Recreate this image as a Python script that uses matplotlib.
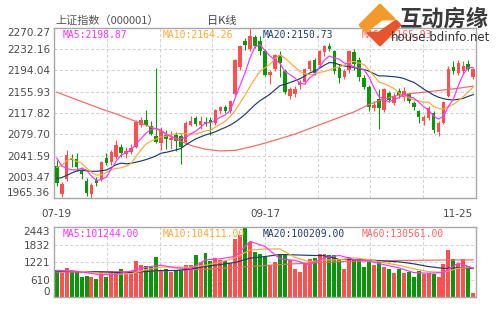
import numpy as np
import matplotlib
matplotlib.use("Agg")
import matplotlib.pyplot as plt
from matplotlib.patches import Polygon
from matplotlib.transforms import blended_transform_factory

plt.rcParams['font.family'] = ['DejaVu Sans', 'Noto Sans CJK SC']

# daily candles, 07-19 .. 11-25
date_labels = ['07-19', '09-17', '11-25']
date_index = [0, 42, 84]

opens = [2023, 1973, 1999, 2038, 2036, 2014, 1997, 1973, 1998, 1999,
         2038, 2031, 2040, 2057, 2044, 2049, 2057, 2097, 2106, 2094,
         2076, 2064, 2078, 2070, 2078, 2076, 2066, 2097, 2109, 2097,
         2101, 2106, 2100, 2121, 2128, 2121, 2151, 2200, 2246, 2232,
         2254, 2246, 2229, 2185, 2197, 2221, 2192, 2148, 2152, 2167,
         2173, 2197, 2213, 2203, 2227, 2238, 2228, 2198, 2183, 2194,
         2227, 2212, 2180, 2165, 2126, 2142, 2124, 2154, 2136, 2157,
         2146, 2151, 2136, 2121, 2104, 2109, 2118, 2084, 2100, 2148,
         2200, 2190, 2192, 2206, 2182]
highs = [2033, 1994, 2051, 2045, 2046, 2021, 2001, 1993, 2004, 2032,
         2046, 2052, 2069, 2063, 2057, 2062, 2105, 2110, 2124, 2104,
         2198.85, 2092, 2087, 2085, 2083, 2081, 2103, 2112, 2112, 2112,
         2111, 2110, 2125, 2131, 2132, 2141, 2215, 2240, 2252, 2270.27,
         2258, 2255, 2232, 2194, 2224, 2228, 2196, 2165, 2166, 2177,
         2199, 2213, 2216, 2230, 2240, 2243, 2231, 2206, 2196, 2231,
         2233, 2218, 2185, 2168, 2140, 2160, 2163, 2158, 2153, 2163,
         2165, 2154, 2140, 2124, 2115, 2130, 2121, 2103, 2140, 2202,
         2210, 2212, 2210, 2213, 2199]
lows = [1987, 1967, 1996, 2022, 2014, 1999, 1970, 1965.36, 1988, 1997,
        2024, 2025, 2035, 2040, 2038, 2044, 2055, 2093, 2094, 2078,
        2064, 2052, 2054, 2054, 2050, 2026, 2062, 2094, 2094, 2090,
        2094, 2079, 2097, 2116, 2118, 2117, 2150, 2194, 2231, 2228,
        2234, 2222, 2184, 2170, 2193, 2183, 2152, 2143, 2146, 2160,
        2170, 2193, 2186, 2200, 2220, 2228, 2188, 2172, 2178, 2190,
        2195, 2175, 2160, 2121, 2122, 2090, 2120, 2138, 2132, 2145,
        2140, 2135, 2124, 2100, 2096, 2105, 2082, 2076, 2098, 2146,
        2188, 2186, 2188, 2192, 2178]
closes = [1993, 1991, 2042, 2033, 2021, 2008, 1974, 1990, 1993, 2030,
          2029, 2048, 2060, 2047, 2050, 2055, 2102, 2106, 2097, 2081,
          2066, 2086, 2072, 2074, 2068, 2057, 2100, 2103, 2098, 2103,
          2098, 2101, 2123, 2128, 2122, 2139, 2212, 2238, 2240, 2255,
          2237, 2229, 2186, 2191, 2221, 2207, 2155, 2160, 2161, 2174,
          2197, 2211, 2190, 2228, 2237, 2233, 2192, 2180, 2193, 2229,
          2205, 2183, 2164, 2128, 2133, 2126, 2160, 2141, 2149, 2150,
          2157, 2139, 2129, 2111, 2110, 2126, 2087, 2100, 2138.25, 2197,
          2193.1, 2206.6, 2201.0, 2197.3, 2196.35]

volumes = [942, 860, 1035, 942, 884, 709, 732, 709, 651, 884,
           709, 907, 884, 1000, 884, 907, 1256, 1116, 1093, 1058,
           1407, 942, 1000, 884, 907, 942, 1116, 1140, 1476, 1243,
           1557, 1256, 1361, 1302, 1279, 1186, 2024, 2174, 2443, 1930,
           1591, 1500, 1407, 1116, 1232, 1465, 1465, 1290, 1000, 884,
           1174, 1349, 1372, 1523, 1500, 1465, 1465, 1350, 1000, 1407,
           1349, 1290, 1060, 1230, 1116, 1230, 1060, 1000, 840, 1000,
           850, 900, 720, 920, 800, 860, 820, 700, 1150, 1640,
           1330, 1150, 1340, 1100, 142.2]

# price moving averages
ma5 = [2037.2, 2023.4, 2018.6, 2016.4, 2016.0, 2019.0, 2015.6, 2005.2, 1997.2, 1999.0,
       2003.2, 2018.0, 2032.0, 2042.8, 2046.8, 2052.0, 2062.8, 2072.0, 2082.0, 2088.2,
       2090.4, 2087.2, 2080.4, 2075.8, 2073.2, 2071.4, 2074.2, 2080.4, 2085.2, 2092.2,
       2100.4, 2100.6, 2104.6, 2110.6, 2114.4, 2122.6, 2144.8, 2167.8, 2190.2, 2216.8,
       2236.4, 2239.8, 2229.4, 2219.6, 2212.8, 2206.8, 2192.0, 2186.8, 2180.8, 2171.4,
       2169.4, 2180.6, 2186.6, 2200.0, 2212.6, 2219.8, 2216.0, 2214.0, 2207.0, 2205.4,
       2199.8, 2198.0, 2194.8, 2181.8, 2162.6, 2146.8, 2142.2, 2137.6, 2141.8, 2145.2,
       2151.4, 2147.2, 2144.8, 2137.2, 2129.2, 2123.0, 2112.6, 2106.8, 2112.25, 2129.65,
       2143.07, 2166.99, 2187.19, 2199.0, 2198.87]
ma10 = [2020.7, 2023.9, 2032.5, 2036.3, 2031.2, 2028.1, 2019.5, 2011.9, 2006.8, 2007.5,
        2011.1, 2016.8, 2018.6, 2020.0, 2022.9, 2027.6, 2040.4, 2052.0, 2062.4, 2067.5,
        2071.2, 2075.0, 2076.2, 2078.9, 2080.7, 2080.9, 2080.7, 2080.4, 2080.5, 2082.7,
        2085.9, 2087.4, 2092.5, 2097.9, 2103.3, 2111.5, 2122.7, 2136.2, 2150.4, 2165.6,
        2179.5, 2192.3, 2198.6, 2204.9, 2214.8, 2221.6, 2215.9, 2208.1, 2200.2, 2192.1,
        2188.1, 2186.3, 2186.7, 2190.4, 2192.0, 2194.6, 2198.3, 2200.3, 2203.5, 2209.0,
        2209.8, 2207.0, 2204.4, 2194.4, 2184.0, 2173.3, 2170.1, 2166.2, 2161.8, 2153.9,
        2149.1, 2144.7, 2141.2, 2139.5, 2137.2, 2137.2, 2129.9, 2125.8, 2124.7, 2129.4,
        2133.0, 2139.8, 2147.0, 2155.6, 2164.26]
ma20 = [2000.9, 2002.3, 2006.4, 2010.5, 2014.1, 2015.5, 2014.5, 2013.7, 2013.6, 2014.8,
        2015.9, 2020.4, 2025.6, 2028.2, 2027.1, 2027.9, 2030.0, 2032.0, 2034.6, 2037.5,
        2041.2, 2045.9, 2047.4, 2049.5, 2051.8, 2054.3, 2060.6, 2066.2, 2071.5, 2075.1,
        2078.6, 2081.2, 2084.4, 2088.4, 2092.0, 2096.2, 2101.7, 2108.3, 2115.5, 2124.2,
        2132.7, 2139.9, 2145.6, 2151.4, 2159.1, 2166.6, 2169.3, 2172.2, 2175.3, 2178.9,
        2183.8, 2189.3, 2192.7, 2197.7, 2203.4, 2208.1, 2207.1, 2204.2, 2201.9, 2200.6,
        2199.0, 2196.7, 2195.6, 2192.4, 2188.0, 2184.0, 2184.2, 2183.3, 2182.7, 2181.5,
        2179.5, 2175.9, 2172.8, 2167.0, 2160.6, 2155.3, 2150.0, 2146.0, 2143.3, 2141.7,
        2141.1, 2142.3, 2144.1, 2147.6, 2150.73]
ma60_index = list(range(0, 85, 3))
ma60 = [2155, 2145, 2135, 2125, 2116, 2106, 2096, 2086, 2071, 2060,
        2053, 2050, 2051, 2057, 2064, 2072, 2080, 2090, 2100, 2110,
        2120, 2133, 2143, 2150, 2153, 2156, 2159, 2162, 2165.93]

# volume moving averages (same units as the bars)
vol_ma_index = list(range(0, 85, 3))
vol_ma5 = [942, 920, 860, 780, 807, 916, 1051, 1123, 1028, 998,
           1306, 1344, 1430, 1951, 1774, 1344, 1290, 1139, 1384, 1461,
           1314, 1267, 1139, 1026, 862, 840, 866, 1194, 1012.44]
vol_ma10 = [930, 920, 890, 835, 801, 827, 964, 1055, 1057, 1049,
            1121, 1230, 1382, 1651, 1684, 1688, 1400, 1238, 1302, 1308,
            1378, 1312, 1209, 1118, 995, 895, 872, 1009, 1041.11]
vol_ma20 = [900, 900, 895, 890, 870, 860, 900, 935, 934, 985,
            1075, 1143, 1217, 1365, 1422, 1494, 1480, 1464, 1451, 1319,
            1314, 1306, 1265, 1239, 1168, 1073, 1011, 1030, 1002.09]
vol_ma60_index = list(range(0, 85, 6))
vol_ma60 = [880, 880, 890, 910, 940, 980, 1040, 1110, 1170, 1220,
            1260, 1280, 1290, 1300, 1305.61]
VOL_LABEL_UNIT = 100

UP = '#ff4f4f'
DOWN = '#0a960a'
MA_COLORS = ['#ff33ff', '#ffa836', '#1c3c6c', '#ff6464']
GRID = '#d2d2d2'
FRAME = '#a8a8a8'
TEXT = '#4a4a4a'

W, H = 500, 326
fig = plt.figure(figsize=(W / 100, H / 100), dpi=100)


def box(left, top, right, bottom):
    return [left / W, 1 - bottom / H, (right - left) / W, (bottom - top) / H]


ax = fig.add_axes(box(54.3, 27.7, 475.7, 198.3))
axv = fig.add_axes(box(54.3, 227.3, 475.7, 297.3))

n = len(closes)
x = np.arange(n)
o = np.array(opens)
c = np.array(closes)
colors = np.where(c >= o, UP, DOWN)

# candles
ax.vlines(x, lows, highs, colors=colors, lw=0.8, zorder=2)
ax.bar(x, np.abs(c - o), bottom=np.minimum(o, c), width=0.72, color=colors, lw=0, zorder=3)
for vals, idx, col in [(ma60, ma60_index, MA_COLORS[3]), (ma20, x, MA_COLORS[2]),
                       (ma10, x, MA_COLORS[1]), (ma5, x, MA_COLORS[0])]:
    ax.plot(idx, vals, color=col, lw=0.85, zorder=4)

# volume
axv.bar(x, volumes, width=0.8, color=colors, lw=0, zorder=2)
for vals, idx, col in [(vol_ma60, vol_ma60_index, MA_COLORS[3]), (vol_ma20, vol_ma_index, MA_COLORS[2]),
                       (vol_ma10, vol_ma_index, MA_COLORS[1]), (vol_ma5, vol_ma_index, MA_COLORS[0])]:
    axv.plot(idx, vals, color=col, lw=0.85, zorder=4)


def style(a, lo, hi, ticks, labels):
    a.set_xlim(-0.5, n - 0.5)
    a.set_ylim(lo, hi)
    a.set_xticks(np.linspace(-0.5, n - 0.5, 9)[1:-1])
    a.set_yticks(ticks)
    a.set_yticklabels(labels)
    a.tick_params(length=0, labelsize=7.5, labelcolor=TEXT, pad=3, labelbottom=False)
    a.grid(True, color=GRID, lw=0.75, ls=(0, (3, 2)))
    a.set_axisbelow(True)
    for s in a.spines.values():
        s.set_color(FRAME)
        s.set_linewidth(1)
    lbls = a.get_yticklabels()
    lbls[0].set_va('bottom')
    lbls[-1].set_va('top')


plo, phi = min(lows), max(highs)
pticks = np.linspace(plo, phi, 9)
style(ax, plo, phi, pticks, [f"{t:.2f}" for t in pticks])
vhi = max(volumes)
vticks = np.linspace(0, vhi, 5)
style(axv, 0, vhi, vticks, [str(int(t)) for t in vticks])

# MA readouts
legend_x = [0.0206, 0.258, 0.494, 0.7295]
price_text = [f"MA5:{ma5[-1]:.2f}", f"MA10:{ma10[-1]:.2f}",
              f"MA20:{ma20[-1]:.2f}", f"MA60:{ma60[-1]:.2f}"]
vol_text = [f"MA5:{vol_ma5[-1] * VOL_LABEL_UNIT:.2f}", f"MA10:{vol_ma10[-1] * VOL_LABEL_UNIT:.2f}",
            f"MA20:{vol_ma20[-1] * VOL_LABEL_UNIT:.2f}", f"MA60:{vol_ma60[-1] * VOL_LABEL_UNIT:.2f}"]
for lx, pt, vt, col in zip(legend_x, price_text, vol_text, MA_COLORS):
    ax.text(lx, 0.957, pt, transform=ax.transAxes, color=col, fontsize=7,
            family='DejaVu Sans Mono', va='center', zorder=6)
    axv.text(lx, 0.904, vt, transform=axv.transAxes, color=col, fontsize=7,
             family='DejaVu Sans Mono', va='center', zorder=6)

# date row
trans = blended_transform_factory(ax.transData, fig.transFigure)
for lab, i, ha in zip(date_labels, date_index, ['center', 'center', 'right']):
    ax.text(i, 1 - 214 / H, lab, transform=trans, ha=ha, va='center',
            fontsize=7.5, color=TEXT)

# header + site mark, in pixel coordinates
ov = fig.add_axes([0, 0, 1, 1], zorder=10)
ov.set_xlim(0, W)
ov.set_ylim(H, 0)
ov.axis('off')
ov.patch.set_alpha(0)
ov.text(55, 21, '上证指数（000001）', fontsize=8, color='#555555', va='center',
        family=['Noto Sans CJK SC', 'DejaVu Sans'])
ov.text(222, 21, '日K线', fontsize=8, color='#444444', va='center', ha='center',
        family=['Noto Sans CJK SC', 'DejaVu Sans'])

ov.add_patch(Polygon([(360, 25), (380, 5), (394, 19), (382, 19), (366, 31)], closed=True,
                     fc='#f49a2a', ec='#f49a2a', lw=2, joinstyle='round'))
ov.add_patch(Polygon([(400, 25), (380, 45), (368, 33), (379, 33), (396, 21)], closed=True,
                     fc='#e8552c', ec='#e8552c', lw=2, joinstyle='round'))
ov.text(400, 19, '互动房缘', fontsize=16, color='#3a3a3a', va='center', ha='left',
        weight='bold', family=['Noto Sans CJK SC'])
ov.text(391, 37.5, 'house.bdinfo.net', fontsize=8.5, color='#333333', va='center', ha='left')

fig.savefig('out.png', dpi=100)
